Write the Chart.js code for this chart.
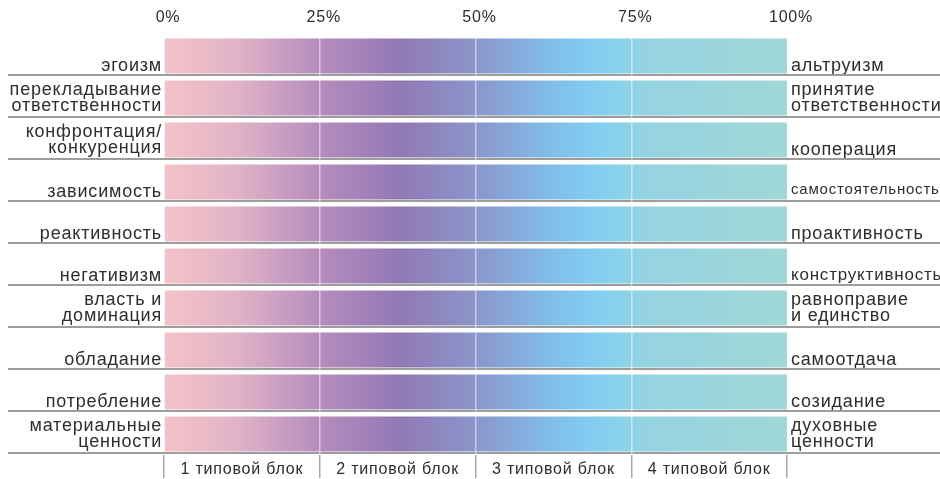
<!DOCTYPE html>
<html>
<head>
<meta charset="utf-8">
<script src="https://cdn.jsdelivr.net/npm/chart.js@4.4.0/dist/chart.umd.min.js"></script>
<style>
  html, body { margin: 0; padding: 0; background: #fff; }
  #wrap { width: 940px; height: 479px; position: relative; }
</style>
</head>
<body>
<div id="wrap"><canvas id="grafico"></canvas></div>
<script>
// полюса шкал: слева и справа (пустая строка прижимает подпись к низу ряда)
const leftLabels = [
  ['', 'эгоизм'],
  ['перекладывание', 'ответственности'],
  ['конфронтация/', 'конкуренция'],
  ['', 'зависимость'],
  ['', 'реактивность'],
  ['', 'негативизм'],
  ['власть и', 'доминация'],
  ['', 'обладание'],
  ['', 'потребление'],
  ['материальные', 'ценности']
];
const rightLabels = [
  ['', 'альтруизм'],
  ['принятие', 'ответственности'],
  ['', 'кооперация'],
  ['', 'самостоятельность'],
  ['', 'проактивность'],
  ['', 'конструктивность'],
  ['равноправие', 'и единство'],
  ['', 'самоотдача'],
  ['', 'созидание'],
  ['духовные', 'ценности']
];
const rowValues = [100, 100, 100, 100, 100, 100, 100, 100, 100, 100];
const percentStep = 25;
const blockLabels = ['1 типовой блок', '2 типовой блок', '3 типовой блок', '4 типовой блок'];

const textColor = '#2e2e2e';
const fontName = '"Liberation Sans", Arial, sans-serif';

let gradiente = null;
function colorBarra(context) {
    const chart = context.chart;
    const area = chart.chartArea;
    if (!area) return '#a090c8';
    if (!gradiente) {
        gradiente = chart.ctx.createLinearGradient(area.left, 0, area.right, 0);
        gradiente.addColorStop(0.00, '#f4c3c9');
        gradiente.addColorStop(0.12, '#e0b2c6');
        gradiente.addColorStop(0.25, '#b68cbd');
        gradiente.addColorStop(0.38, '#9278b5');
        gradiente.addColorStop(0.50, '#8a96cb');
        gradiente.addColorStop(0.62, '#82bde8');
        gradiente.addColorStop(0.70, '#82cff1');
        gradiente.addColorStop(0.77, '#94d3e2');
        gradiente.addColorStop(1.00, '#a1d7d6');
    }
    return gradiente;
}

// одна строка -> чуть ниже, двухстрочные -> плотнее
function fuenteFila(lista, size) {
    return function(c) {
        const fila = lista[c.index] || ['', ''];
        return { family: fontName, size: size(c.index), lineHeight: fila[0] === '' ? 1.1 : 0.84 };
    };
}

// разрядка букв, как в оригинале
const espaciado = {
    id: 'espaciado',
    beforeUpdate(chart) { chart.ctx.letterSpacing = '0.8px'; },
    beforeDraw(chart) { chart.ctx.letterSpacing = '0.8px'; }
};

// линии-разделители под каждым рядом, на всю ширину
const separadores = {
    id: 'separadores',
    afterDatasetsDraw(chart) {
        const ctx = chart.ctx;
        const y = chart.scales.y;
        ctx.save();
        ctx.strokeStyle = '#9d9d9d';
        ctx.lineWidth = 2;
        leftLabels.forEach(function(l, i) {
            const yy = Math.round(y.getPixelForValue(i + 0.5)) - 2;
            ctx.beginPath();
            ctx.moveTo(8, yy);
            ctx.lineTo(chart.width, yy);
            ctx.stroke();
        });
        ctx.restore();
    }
};

const ctx = document.querySelector('#grafico');
const grafico = new Chart(ctx, {
    type: 'bar',
    data: {
        labels: leftLabels,
        datasets: [{
            data: rowValues,
            backgroundColor: colorBarra,
            borderWidth: 0,
            barPercentage: 0.83,
            categoryPercentage: 1,
            xAxisID: 'x',
            yAxisID: 'y'
        }]
    },
    options: {
        indexAxis: 'y',
        responsive: true,
        maintainAspectRatio: false,
        animation: false,
        layout: { padding: 0 },
        plugins: {
            legend: { display: false },
            tooltip: { enabled: false }
        },
        scales: {
            x: {
                position: 'top',
                min: 0,
                max: 100,
                border: { display: false },
                grid: {
                    z: 1,
                    drawTicks: false,
                    lineWidth: 1.5,
                    color: function(c) {
                        const v = c.tick ? c.tick.value : 0;
                        return (v > 0 && v < 100) ? 'rgba(255,255,255,0.5)' : 'rgba(0,0,0,0)';
                    }
                },
                ticks: {
                    stepSize: percentStep,
                    padding: 8,
                    labelOffset: 4,
                    color: textColor,
                    font: { family: fontName, size: 16 },
                    callback: function(v) { return v + '%'; }
                },
                afterFit: function(s) { s.height = 35; }
            },
            x2: {
                position: 'bottom',
                min: 0,
                max: 100,
                border: { display: false },
                grid: {
                    drawOnChartArea: false,
                    tickLength: 23,
                    lineWidth: 1.5,
                    tickColor: function(c) {
                        const v = c.tick ? c.tick.value : 1;
                        return v % percentStep === 0 ? '#a8a8a8' : 'rgba(0,0,0,0)';
                    }
                },
                ticks: {
                    stepSize: percentStep / 2,
                    autoSkip: false,
                    maxRotation: 0,
                    padding: -18,
                    color: textColor,
                    font: { family: fontName, size: 16 },
                    callback: function(v) {
                        if (v % percentStep === 0) return '';
                        return blockLabels[Math.floor(v / percentStep)];
                    }
                },
                afterFit: function(s) { s.height = 24; }
            },
            y: {
                position: 'left',
                border: { display: false },
                grid: { display: false, drawTicks: false },
                ticks: {
                    autoSkip: false,
                    padding: 2,
                    color: textColor,
                    font: fuenteFila(leftLabels, function() { return 18; })
                },
                afterFit: function(s) { s.width = 164; }
            },
            y2: {
                type: 'category',
                labels: rightLabels,
                position: 'right',
                offset: true,
                border: { display: false },
                grid: { display: false, drawTicks: false },
                ticks: {
                    autoSkip: false,
                    padding: 4,
                    color: textColor,
                    font: fuenteFila(rightLabels, function(i) {
                        if (i === 3) return 15;
                        if (i === 5) return 17;
                        return 18;
                    })
                },
                afterFit: function(s) { s.width = 153; }
            }
        }
    },
    plugins: [espaciado, separadores]
});
</script>
</body>
</html>
